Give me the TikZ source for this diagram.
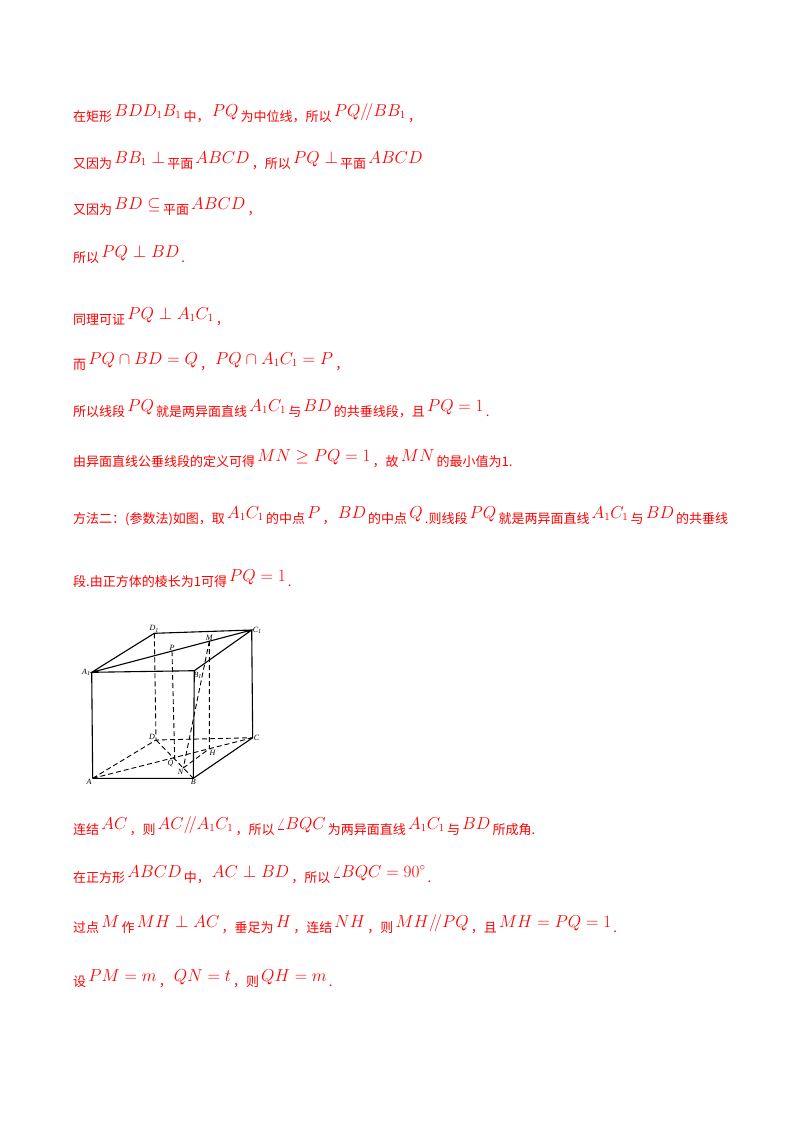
\documentclass[tikz,border=0pt]{standalone}
\usepackage{fontspec}
\setmainfont{Noto Sans CJK SC}
\newfontfamily\tms{Liberation Serif}
\newcommand{\mm}[1]{\,\raisebox{5pt}{\fontsize{16}{16}\selectfont$#1$}\,}
\begin{document}
\begin{tikzpicture}[x=1pt,y=-1pt,
 tl/.style={anchor=base west,inner sep=0pt,text=red,font=\fontsize{13}{13}\selectfont},
 sl/.style={line width=1.1pt},
 dl/.style={line width=0.9pt,dash pattern=on 5pt off 3pt},
 lb/.style={font=\tms\itshape\fontsize{8}{8}\selectfont,inner sep=1pt}]
\useasboundingbox (0,0) rectangle (800,1132);
\node[tl] (t1) at (73,121) {在矩形\mm{BDD_1B_1}中，\mm{PQ}为中位线，所以\mm{PQ/\!/BB_1}，};
\node[tl] (t2) at (73,168) {又因为\mm{BB_1\perp}平面\mm{ABCD}，所以\mm{PQ\perp}平面\mm{ABCD}};
\node[tl] (t3) at (73,214) {又因为\mm{BD\subseteq}平面\mm{ABCD}，};
\node[tl] (t4) at (73,262) {所以\mm{PQ\perp BD}.};
\node[tl] (t5) at (73,324) {同理可证\mm{PQ\perp A_1C_1}，};
\node[tl] (t6) at (73,369) {而\mm{PQ\cap BD=Q}，\mm{PQ\cap A_1C_1=P}，};
\node[tl] (t7) at (73,416) {所以线段\mm{PQ}就是两异面直线\mm{A_1C_1}与\mm{BD}的共垂线段，且\mm{PQ=1}.};
\node[tl] (t8) at (73,466) {由异面直线公垂线段的定义可得\mm{MN\ge PQ=1}，故\mm{MN}的最小值为1.};
\node[tl] (t9) at (73,523) {方法二：(参数法)如图，取\mm{A_1C_1}的中点\mm{P}，\mm{BD}的中点\mm{Q}.则线段\mm{PQ}就是两异面直线\mm{A_1C_1}与\mm{BD}的共垂线};
\node[tl] (t10) at (73,586) {段.由正方体的棱长为1可得\mm{PQ=1}.};
\node[tl] (t11) at (73,834) {连结\mm{AC}，则\mm{AC/\!/A_1C_1}，所以\mm{\angle BQC}为两异面直线\mm{A_1C_1}与\mm{BD}所成角.};
\node[tl] (t12) at (73,882) {在正方形\mm{ABCD}中，\mm{AC\perp BD}，所以\mm{\angle BQC=90^\circ}.};
\node[tl] (t13) at (73,932) {过点\mm{M}作\mm{MH\perp AC}，垂足为\mm{H}，连结\mm{NH}，则\mm{MH/\!/PQ}，且\mm{MH=PQ=1}.};
\node[tl] (t14) at (73,986) {设\mm{PM=m}，\mm{QN=t}，则\mm{QH=m}.};
% cube
\coordinate (A1) at (91.7,672.3);
\coordinate (B1) at (194.3,670.7);
\coordinate (C1) at (251.7,630);
\coordinate (D1) at (154.3,633.3);
\coordinate (A) at (92.7,778.3);
\coordinate (B) at (193.3,778.3);
\coordinate (C) at (252.7,737.7);
\coordinate (D) at (156,740);
\coordinate (P) at (172,651.2);
\coordinate (M) at (209.3,641.2);
\coordinate (Q) at (174.7,759.2);
\coordinate (H) at (209.3,748.7);
\coordinate (N) at (183.3,768);
\draw[sl] (A1)--(B1)--(C1)--(D1)--cycle (A1)--(C1);
\draw[sl] (A)--(B)--(C) (A)--(A1) (B)--(B1) (C)--(C1);
\draw[dl] (D1)--(D) (A)--(D)--(C) (A)--(C) (B)--(D);
\draw[dl] (P)--(Q) (M)--(H) (M)--(N) (N)--(H);
\node[lb,left] at (A1) {A\textsubscript{1}};
\node[lb,below right,xshift=-2pt] at (B1) {B\textsubscript{1}};
\node[lb,above] at (D1) {D\textsubscript{1}};
\node[lb,right] at (C1) {C\textsubscript{1}};
\node[lb,below left] at (A) {A};
\node[lb,below] at (B) {B};
\node[lb,right] at (C) {C};
\node[lb,left,yshift=3pt] at (D) {D};
\node[lb,above] at (P) {P};
\node[lb,above] at (M) {M};
\node[lb,left,yshift=-4pt] at (Q) {Q};
\node[lb,below right,xshift=-1pt] at (H) {H};
\node[lb,below left,xshift=1pt] at (N) {N};
\end{tikzpicture}
\end{document}
